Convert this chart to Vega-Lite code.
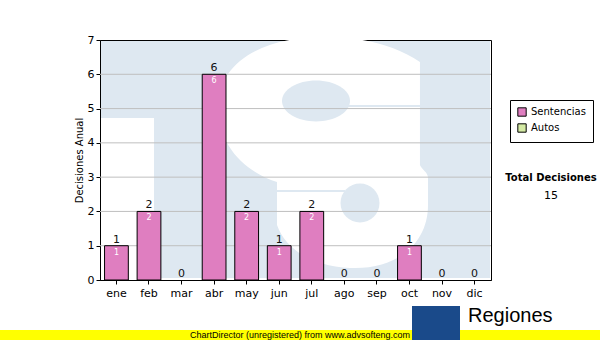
{
  "$schema": "https://vega.github.io/schema/vega-lite/v6.json",
  "autosize": {"type": "none"},
  "padding": {"left": 100, "top": 40, "right": 109, "bottom": 60},
  "width": 391,
  "height": 240,
  "background": "white",
  "config": {
    "font": "DejaVu Sans",
    "view": {"stroke": "black", "strokeWidth": 1},
    "axis": {"domainColor": "black", "tickColor": "black", "labelColor": "black", "labelFont": "DejaVu Sans", "labelFontSize": 11, "titleFont": "DejaVu Sans", "titleFontWeight": "normal", "titleColor": "black"}
  },
  "datasets": {
    "meses": [
      {"mes": "ene", "v": 1, "serie": "Sentencias"},
      {"mes": "feb", "v": 2, "serie": "Sentencias"},
      {"mes": "mar", "v": 0, "serie": "Sentencias"},
      {"mes": "abr", "v": 6, "serie": "Sentencias"},
      {"mes": "may", "v": 2, "serie": "Sentencias"},
      {"mes": "jun", "v": 1, "serie": "Sentencias"},
      {"mes": "jul", "v": 2, "serie": "Sentencias"},
      {"mes": "ago", "v": 0, "serie": "Sentencias"},
      {"mes": "sep", "v": 0, "serie": "Sentencias"},
      {"mes": "oct", "v": 1, "serie": "Sentencias"},
      {"mes": "nov", "v": 0, "serie": "Sentencias"},
      {"mes": "dic", "v": 0, "serie": "Sentencias"}
    ],
    "grid": [{"g": 1}, {"g": 2}, {"g": 3}, {"g": 4}, {"g": 5}, {"g": 6}]
  },
  "layer": [
    {
      "data": {"values": [{"s": "logo"}]},
      "layer": [
        {"mark": {"type": "rect", "fill": "#dee8f1", "clip": true},
         "encoding": {"x": {"value": 1}, "x2": {"value": 54}, "y": {"value": 1}, "y2": {"value": 78}}},
        {"mark": {"type": "rect", "fill": "#dee8f1", "clip": true},
         "encoding": {"x": {"value": 54}, "x2": {"value": 390}, "y": {"value": 1}, "y2": {"value": 238}}},
        {"mark": {"type": "point", "clip": true, "filled": true, "fill": "white", "opacity": 1, "strokeWidth": 0, "size": 52900,
                  "shape": "M 0.843 -0.791 C 0.626 -0.939 0.339 -1.009 0.017 -1.009 C -0.53 -1.009 -0.913 -0.791 -0.913 -0.391 C -0.913 -0.07 -0.678 0.165 -0.4 0.252 L -0.4 0.626 C -0.33 0.826 -0.113 0.983 0.235 1 C 0.626 1.017 0.913 0.8 0.913 0.452 L 0.913 0.217 C 0.913 0.165 0.861 0.148 0.843 0.104 L 0.843 -0.409 Z"},
         "encoding": {"x": {"value": 223}, "y": {"value": 113}}},
        {"mark": {"type": "point", "clip": true, "filled": true, "fill": "#dee8f1", "opacity": 1, "strokeWidth": 0, "size": 4624,
                  "shape": "M -1 0 A 1 0.6 0 1 0 1 0 A 1 0.6 0 1 0 -1 0 Z"},
         "encoding": {"x": {"value": 216}, "y": {"value": 61}}},
        {"mark": {"type": "point", "clip": true, "filled": true, "fill": "#dee8f1", "opacity": 1, "strokeWidth": 0, "size": 1520, "shape": "circle"},
         "encoding": {"x": {"value": 260}, "y": {"value": 163}}},
        {"mark": {"type": "rule", "clip": true, "color": "#dee8f1", "strokeWidth": 2},
         "encoding": {"x": {"value": 240}, "x2": {"value": 321}, "y": {"value": 66}}},
        {"mark": {"type": "rule", "clip": true, "color": "#dee8f1", "strokeWidth": 2},
         "encoding": {"x": {"value": 176}, "x2": {"value": 245}, "y": {"value": 151}}}
      ]
    },
    {
      "data": {"name": "grid"},
      "mark": {"type": "rule", "color": "#bfbfbf", "strokeWidth": 1},
      "encoding": {"y": {"field": "g", "type": "quantitative", "scale": {"domain": [0, 7], "nice": false},
              "axis": {"title": "Decisiones Anual", "titleFontSize": 10, "titlePadding": 3, "values": [0,1,2,3,4,5,6,7], "labelOverlap": false, "grid": false, "tickSize": 4, "labelPadding": 2}}}
    },
    {
      "data": {"name": "meses"},
      "encoding": {
        "x": {"field": "mes", "type": "nominal",
              "scale": {"domain": ["ene","feb","mar","abr","may","jun","jul","ago","sep","oct","nov","dic"], "paddingInner": 0.27, "paddingOuter": 0.14},
              "axis": {"title": null, "labelAngle": 0, "tickSize": 4, "labelPadding": 3, "labelOverlap": false}},
        "y": {"field": "v", "type": "quantitative", "scale": {"domain": [0, 7], "nice": false},
              "axis": {"title": "Decisiones Anual", "titleFontSize": 10, "titlePadding": 3, "values": [0,1,2,3,4,5,6,7], "labelOverlap": false, "grid": false, "tickSize": 4, "labelPadding": 2}}
      },
      "layer": [
        {
          "transform": [{"filter": "datum.v > 0"}],
          "mark": {"type": "bar", "stroke": "black", "strokeWidth": 1},
          "encoding": {
            "color": {"field": "serie", "type": "nominal",
                      "scale": {"domain": ["Sentencias", "Autos"], "range": ["#df7ec0", "#d4eaa4"]},
                      "legend": {"orient": "none", "legendX": 410, "legendY": 60, "title": null, "strokeColor": "black", "fillColor": "white", "padding": 7, "symbolType": "square", "symbolSize": 70, "symbolStrokeColor": "black", "symbolStrokeWidth": 1, "symbolOpacity": 1, "labelFont": "DejaVu Sans", "labelFontSize": 10, "labelColor": "black", "rowPadding": 2, "labelOffset": 4}}
          }
        },
        {
          "mark": {"type": "text", "baseline": "bottom", "dy": -1, "fontSize": 11, "color": "#111"},
          "encoding": {"text": {"field": "v", "type": "quantitative"}}
        },
        {
          "transform": [{"filter": "datum.v > 0"}],
          "mark": {"type": "text", "baseline": "top", "dy": 3, "fontSize": 8, "color": "white"},
          "encoding": {"text": {"field": "v", "type": "quantitative"}}
        }
      ]
    },
    {
      "data": {"values": [{"t": "Total Decisiones", "n": "15"}]},
      "layer": [
        {"mark": {"type": "text", "fontWeight": "bold", "fontSize": 10, "align": "center", "baseline": "middle", "color": "black"},
         "encoding": {"x": {"value": 451}, "y": {"value": 138}, "text": {"field": "t"}}},
        {"mark": {"type": "text", "fontSize": 11, "align": "center", "baseline": "middle", "color": "black"},
         "encoding": {"x": {"value": 451}, "y": {"value": 156}, "text": {"field": "n"}}}
      ]
    },
    {
      "data": {"values": [{"t": "ChartDirector (unregistered) from www.advsofteng.com", "r": "Regiones"}]},
      "layer": [
        {"mark": {"type": "rect", "fill": "#ffff00", "clip": false},
         "encoding": {"x": {"value": -100}, "x2": {"value": 500}, "y": {"value": 290}, "y2": {"value": 300}}},
        {"mark": {"type": "rect", "fill": "#1a4a8a", "clip": false},
         "encoding": {"x": {"value": 312}, "x2": {"value": 360}, "y": {"value": 266}, "y2": {"value": 300}}},
        {"mark": {"type": "text", "fontSize": 9, "align": "left", "baseline": "middle", "color": "black", "font": "Liberation Sans"},
         "encoding": {"x": {"value": 90}, "y": {"value": 295}, "text": {"field": "t"}}},
        {"mark": {"type": "text", "fontSize": 20, "align": "left", "baseline": "middle", "color": "black", "font": "Liberation Sans"},
         "encoding": {"x": {"value": 368}, "y": {"value": 276}, "text": {"field": "r"}}}
      ]
    }
  ]
}
